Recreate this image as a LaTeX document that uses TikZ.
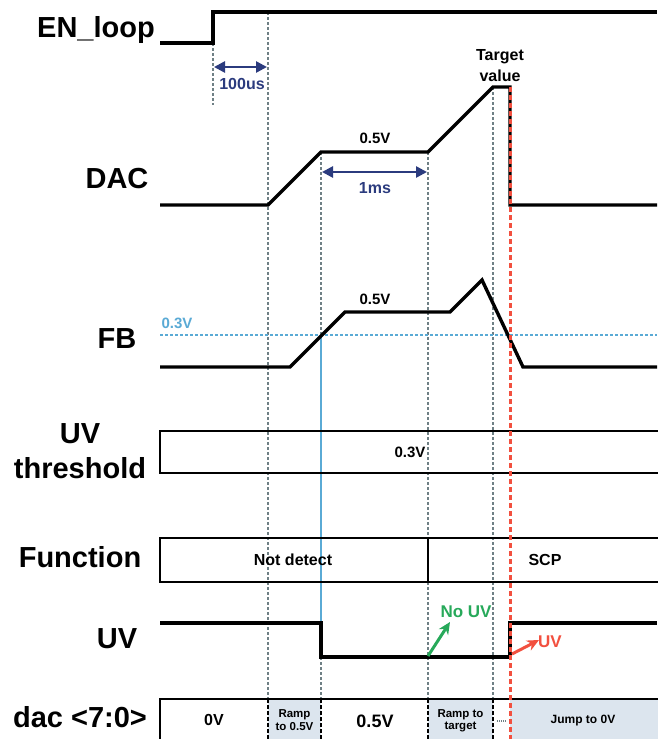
\documentclass[tikz,border=0pt]{standalone}
\usepackage{fontspec}
\setmainfont{Liberation Sans}
\usetikzlibrary{arrows.meta}
\definecolor{markgray}{HTML}{6F8085}
\definecolor{navy}{HTML}{2B3B7E}
\definecolor{fbblue}{HTML}{5AAAD5}
\definecolor{uvred}{HTML}{F2503F}
\definecolor{nogreen}{HTML}{27A95A}
\definecolor{rowshade}{HTML}{DCE5EE}
\newcommand{\sigfont}{\fontsize{29}{33}\selectfont\bfseries}
\tikzset{
    sig/.style={line width=3.4pt, black},
    vline/.style={line width=2pt, markgray, dash pattern=on 3pt off 2pt},
    redline/.style={line width=3pt, uvred, dash pattern=on 5pt off 3pt},
    rowbox/.style={line width=1.8pt, black},
    divider/.style={line width=1.6pt, black, dash pattern=on 4pt off 2pt},
    siglabel/.style={font=\sigfont, anchor=base, inner sep=0pt},
    val/.style={font=\fontsize{#1}{#1}\selectfont\bfseries, anchor=base, inner sep=0pt},
    span/.style={{Triangle[length=11pt,width=11pt]}-{Triangle[length=11pt,width=11pt]}, line width=2.6pt, navy}
}

\begin{document}
\begin{tikzpicture}[x=1pt, y=-1pt]
    \useasboundingbox (0,0) rectangle (657,739);

    % shaded slots of dac row
    \fill[rowshade] (268,699) rectangle (321,745);
    \fill[rowshade] (428,699) rectangle (493,745);
    \fill[rowshade] (510,699) rectangle (670,745);

    % marker lines
    \draw[vline] (213,43) -- (213,105);
    \draw[vline] (268,12) -- (268,699);
    \draw[vline] (321,152) -- (321,335);
    \draw[line width=2pt, fbblue] (321,335) -- (321,657);
    \draw[vline] (321,657) -- (321,699);
    \draw[vline] (428,152) -- (428,699);
    \draw[vline] (493,87) -- (493,699);
    \draw[line width=2pt, fbblue, dash pattern=on 3pt off 2pt] (160,335) -- (657,335);

    % signals
    \draw[sig] (160,43) -- (213,43) -- (213,12) -- (657,12);
    \draw[sig] (160,205) -- (268,205) -- (321,152) -- (428,152) -- (493,87) -- (510,87) -- (510,205) -- (657,205);
    \draw[sig] (160,367) -- (290,367) -- (345,312) -- (450,312) -- (482,280) -- (523,367) -- (657,367);
    \draw[sig] (160,623) -- (321,623) -- (321,657) -- (510,657) -- (510,623) -- (657,623);

    % rows
    \draw[rowbox] (670,431) -- (160,431) -- (160,473) -- (670,473);
    \draw[rowbox] (670,538) -- (160,538) -- (160,582) -- (670,582);
    \draw[rowbox] (428,538) -- (428,582);
    \draw[rowbox] (160,745) -- (160,699) -- (670,699);
    \draw[divider] (268,699) -- (268,745);
    \draw[divider] (321,699) -- (321,745);
    \draw[divider] (428,699) -- (428,745);
    \draw[divider] (493,699) -- (493,745);
    \draw[line width=2.5pt, markgray, dash pattern=on 1pt off 1pt] (497,721) -- (507,721);

    \draw[redline] (510,87) -- (510,745);

    % signal names
    \node[siglabel] (ENLOOP) at (96,37) {EN\_loop};
    \node[siglabel] (DAC) at (117,188) {DAC};
    \node[siglabel] (FB) at (117,348) {FB};
    \node[siglabel] (UVTH) at (80,443) {UV};
    \node[siglabel] (UVTH2) at (80,478) {threshold};
    \node[siglabel] (FUNC) at (80,567) {Function};
    \node[siglabel] (UV) at (117,648) {UV};
    \node[siglabel] (DACBUS) at (80,727) {dac <7:0>};

    % values
    \node[val=15] (DACHALF) at (375,143) {0.5V};
    \node[val=16] (TARGET) at (500,60) {Target};
    \node[val=16] (TARGET2) at (500,81) {value};
    \node[val=15] (FBHALF) at (375,304) {0.5V};
    \node[val=15, fbblue] (FBTH) at (177,328) {0.3V};
    \node[val=15] (THVAL) at (410,457) {0.3V};
    \node[val=16] (NOTDET) at (293,565) {Not detect};
    \node[val=16] (SCP) at (545,565) {SCP};
    \node[val=17, nogreen] (NOUV) at (466,617) {No UV};
    \node[val=17, uvred] (UVHIT) at (550,647) {UV};
    \node[val=16] (ZERO) at (214,725) {0V};
    \node[val=18] (HALF) at (375,727) {0.5V};
    \node[val=11.5] (RAMPA) at (294.5,717) {Ramp};
    \node[val=11.5] (RAMPA2) at (294.5,730) {to 0.5V};
    \node[val=11.5] (RAMPB) at (460.5,717) {Ramp to};
    \node[val=11.5] (RAMPB2) at (460.5,729) {target};
    \node[val=12] (JUMP) at (583,723) {Jump to 0V};

    % time spans
    \node[val=16, navy] (T100) at (242,89) {100us};
    \node[val=16, navy] (T1MS) at (375,193) {1ms};
    \coordinate (S1L) at (214,67);
    \coordinate (S1R) at (267,67);
    \coordinate (S2L) at (322,172);
    \coordinate (S2R) at (427,172);
    \draw[span] (S1L) -- (S1R);
    \draw[span] (S2L) -- (S2R);

    % UV arrows
    \coordinate (GFROM) at (428,656);
    \coordinate (GTO) at (450,622);
    \coordinate (RFROM) at (512,654);
    \coordinate (RTO) at (539,640);
    \draw[-{Stealth[length=12pt,width=11pt]}, line width=3pt, nogreen] (GFROM) -- (GTO);
    \draw[-{Stealth[length=12pt,width=11pt]}, line width=3pt, uvred] (RFROM) -- (RTO);
\end{tikzpicture}
\end{document}
